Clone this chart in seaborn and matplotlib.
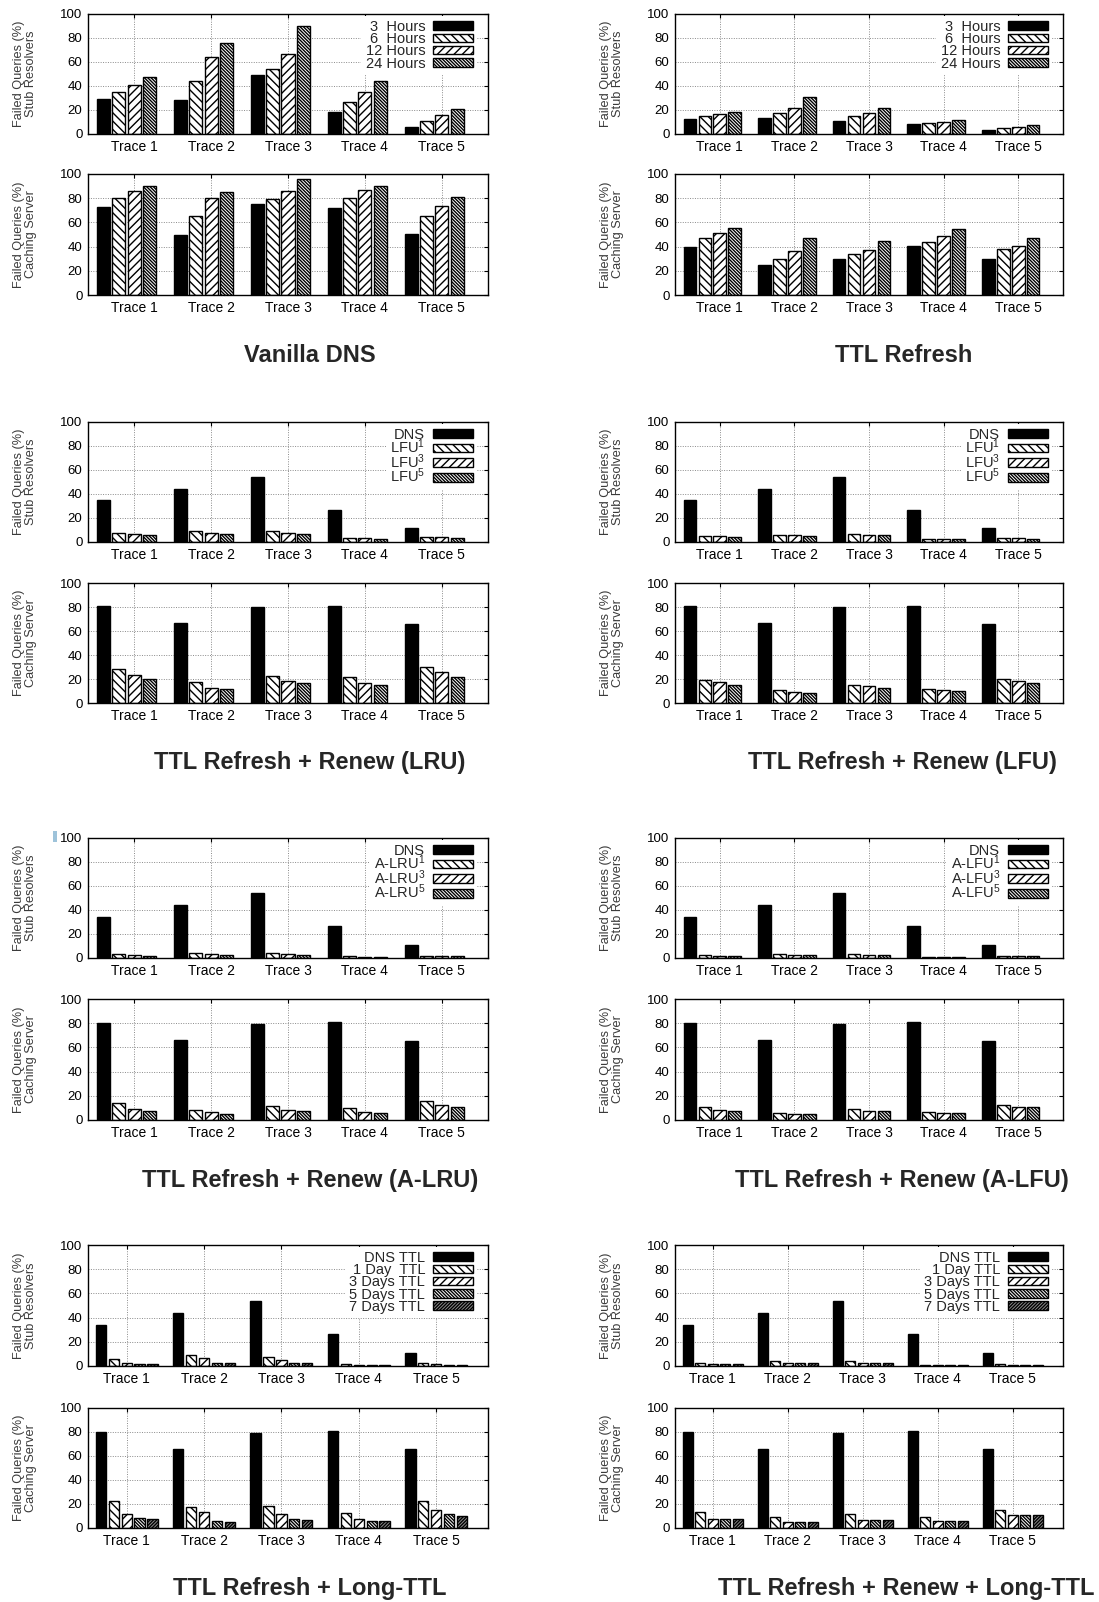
import numpy as np
import pandas as pd
import seaborn as sns
import matplotlib
matplotlib.use("Agg")
import matplotlib.pyplot as plt
from matplotlib.patches import Patch, Rectangle

# ---------------------------------------------------------------- data
traces = ["Trace 1", "Trace 2", "Trace 3", "Trace 4", "Trace 5"]

hours_labels = ["3  Hours", "6  Hours", "12 Hours", "24 Hours"]
lfu_labels = ["DNS", "LFU$^1$", "LFU$^3$", "LFU$^5$"]
alru_labels = ["DNS", "A-LRU$^1$", "A-LRU$^3$", "A-LRU$^5$"]
alfu_labels = ["DNS", "A-LFU$^1$", "A-LFU$^3$", "A-LFU$^5$"]
ttl_labels_a = ["DNS TTL", "1 Day  TTL", "3 Days TTL", "5 Days TTL", "7 Days TTL"]
ttl_labels_b = ["DNS TTL", "1 Day TTL", "3 Days TTL", "5 Days TTL", "7 Days TTL"]

# Vanilla DNS
vanilla_stub_3h = [28.9, 28.3, 49.0, 18.6, 5.8]
vanilla_stub_6h = [35.0, 43.9, 54.0, 27.0, 11.0]
vanilla_stub_12h = [40.8, 64.4, 67.0, 35.0, 15.5]
vanilla_stub_24h = [47.8, 75.5, 90.0, 44.0, 20.5]
vanilla_cache_3h = [72.5, 50.0, 75.5, 71.6, 50.4]
vanilla_cache_6h = [80.0, 65.6, 79.3, 80.4, 65.0]
vanilla_cache_12h = [86.0, 80.0, 86.0, 87.0, 73.3]
vanilla_cache_24h = [90.0, 85.0, 96.0, 90.4, 81.0]

# TTL Refresh
refresh_stub_3h = [12.2, 13.0, 10.8, 8.6, 3.6]
refresh_stub_6h = [15.0, 17.2, 15.3, 9.4, 5.3]
refresh_stub_12h = [16.4, 21.4, 17.5, 9.7, 5.8]
refresh_stub_24h = [18.6, 31.0, 21.4, 12.0, 7.5]
refresh_cache_3h = [39.4, 24.8, 30.0, 40.2, 30.0]
refresh_cache_6h = [47.0, 30.0, 33.9, 44.0, 38.3]
refresh_cache_12h = [51.2, 36.6, 37.5, 49.0, 40.2]
refresh_cache_24h = [55.0, 47.0, 44.6, 54.3, 47.0]

# TTL Refresh + Renew (LRU)
dns_stub = [34.6, 43.9, 54.2, 27.0, 11.5]
dns_cache = [80.7, 66.3, 79.6, 81.2, 65.7]
lru_stub_1 = [7.8, 9.5, 9.5, 3.6, 4.2]
lru_stub_3 = [6.7, 7.3, 7.8, 3.4, 3.9]
lru_stub_5 = [5.6, 6.7, 6.7, 2.8, 3.1]
lru_cache_1 = [28.2, 17.1, 22.4, 21.3, 30.4]
lru_cache_3 = [23.2, 12.7, 18.5, 16.3, 26.2]
lru_cache_5 = [20.2, 11.6, 16.3, 14.6, 21.5]

# TTL Refresh + Renew (LFU)
lfu_stub_1 = [5.0, 6.1, 6.7, 2.8, 3.1]
lfu_stub_3 = [4.7, 5.6, 5.9, 2.5, 3.1]
lfu_stub_5 = [4.5, 5.0, 5.6, 2.2, 2.8]
lfu_cache_1 = [19.0, 10.5, 15.2, 11.9, 20.2]
lfu_cache_3 = [17.4, 9.4, 14.1, 11.0, 18.0]
lfu_cache_5 = [15.2, 8.3, 12.2, 9.9, 16.3]

# TTL Refresh + Renew (A-LRU / A-LFU)
dns_stub_a = [34.4, 43.9, 53.9, 27.0, 10.6]
dns_cache_a = [80.1, 66.0, 79.3, 80.9, 65.5]
alru_stub_1 = [3.3, 4.4, 4.4, 1.7, 1.9]
alru_stub_3 = [2.5, 3.3, 3.3, 1.1, 1.7]
alru_stub_5 = [1.9, 2.5, 2.5, 1.1, 1.7]
alru_cache_1 = [13.8, 8.3, 11.6, 9.7, 15.7]
alru_cache_3 = [9.1, 6.4, 8.3, 6.4, 12.2]
alru_cache_5 = [7.7, 5.2, 7.2, 6.1, 11.0]
alfu_stub_1 = [2.5, 3.3, 3.3, 1.1, 1.4]
alfu_stub_3 = [1.9, 2.5, 2.8, 0.8, 1.4]
alfu_stub_5 = [1.7, 2.5, 2.5, 0.8, 1.4]
alfu_cache_1 = [11.0, 6.1, 9.1, 6.9, 12.4]
alfu_cache_3 = [8.3, 5.0, 7.5, 6.1, 11.0]
alfu_cache_5 = [7.5, 4.7, 7.2, 6.1, 11.0]

# TTL Refresh + Long-TTL
dns_stub_t = [34.0, 43.5, 53.7, 26.3, 10.5]
dns_cache_t = [80.3, 65.8, 79.4, 81.1, 65.6]
lttl_stub_1 = [5.5, 9.4, 7.8, 1.7, 2.8]
lttl_stub_3 = [2.8, 6.6, 4.7, 1.1, 1.7]
lttl_stub_5 = [1.7, 2.8, 2.8, 0.8, 1.1]
lttl_stub_7 = [1.7, 2.8, 2.8, 0.8, 1.1]
lttl_cache_1 = [22.2, 17.2, 18.3, 12.5, 22.2]
lttl_cache_3 = [11.4, 13.1, 11.4, 7.5, 14.7]
lttl_cache_5 = [8.6, 5.6, 7.5, 5.8, 11.4]
lttl_cache_7 = [7.5, 4.7, 6.7, 5.8, 10.3]

# TTL Refresh + Renew + Long-TTL
rttl_stub_1 = [2.8, 4.4, 4.4, 1.1, 1.7]
rttl_stub_3 = [1.7, 2.8, 2.8, 0.8, 1.1]
rttl_stub_5 = [1.4, 2.8, 2.8, 0.8, 1.1]
rttl_stub_7 = [1.4, 2.8, 2.8, 0.8, 1.1]
rttl_cache_1 = [13.0, 8.9, 11.4, 8.9, 15.3]
rttl_cache_3 = [7.2, 5.0, 6.7, 5.6, 10.6]
rttl_cache_5 = [7.2, 4.7, 6.7, 5.6, 10.6]
rttl_cache_7 = [7.2, 4.7, 6.7, 5.6, 10.6]

# ---------------------------------------------------------------- style
sns.set_style("white")
plt.rcParams["font.family"] = ["Liberation Sans", "DejaVu Sans"]
plt.rcParams["mathtext.fontset"] = "custom"
plt.rcParams["mathtext.rm"] = "Liberation Sans"
plt.rcParams["mathtext.it"] = "Liberation Sans"
plt.rcParams["mathtext.bf"] = "Liberation Sans:bold"
plt.rcParams["mathtext.default"] = "regular"
plt.rcParams["hatch.linewidth"] = 1.0
plt.rcParams["hatch.color"] = "black"

BS = "\\"
# fill / hatch for each series slot
styles4 = [("black", ""), ("white", BS * 4), ("white", "////"), ("white", BS * 10)]
styles5 = [("black", ""), ("white", BS * 4), ("white", "////"),
           ("white", BS * 10), ("#8c8c8c", "/" * 10)]

FIG_W, FIG_H = 1099, 1602
fig = plt.figure(figsize=(FIG_W / 100, FIG_H / 100), dpi=100)


def make_axes(x0, x1, y0, y1):
    return fig.add_axes([x0 / FIG_W, 1 - y1 / FIG_H, (x1 - x0) / FIG_W, (y1 - y0) / FIG_H])


def draw(ax, labels, series, styles, ylabel, legend):
    n = len(labels)
    df = pd.DataFrame({
        "trace": np.tile(traces, n),
        "series": np.repeat(labels, len(traces)),
        "value": np.concatenate([np.asarray(s, float) for s in series]),
    })
    palette = {lab: st[0] for lab, st in zip(labels, styles)}
    width = n / (n + 1)
    sns.barplot(data=df, x="trace", y="value", hue="series", order=traces,
                hue_order=labels, palette=palette, saturation=1, width=width,
                gap=0.15 if n == 4 else 0.2, edgecolor="black", linewidth=1.0,
                errorbar=None, legend=False, ax=ax)
    for cont, (fc, hatch) in zip(ax.containers, styles):
        for p in cont.patches:
            p.set_facecolor(fc)
            p.set_hatch(hatch)
            p.set_edgecolor("black")
    pitch = 1.0 / (n + 1)
    shift = pitch / 2 if n % 2 == 0 else 0.0
    ticks = np.arange(len(traces)) + shift
    ax.set_xticks(ticks, traces)
    if n == 4:
        ax.set_xlim(-0.5, 4.7)
    else:
        ax.set_xlim(-0.5, 4.67)
    ax.set_ylim(0, 100)
    ax.set_yticks(np.arange(0, 101, 20))
    ax.set_xlabel("")
    axw = ax.get_position().width * FIG_W
    axh = ax.get_position().height * FIG_H
    ax.set_ylabel(ylabel, fontsize=9.2, color="#3a3a3a", linespacing=1.05)
    ax.yaxis.set_label_coords(-51 / axw, 0.5)
    ax.grid(True, linestyle=(0, (1, 1.5)), color="#8a8a8a", linewidth=0.7)
    ax.set_axisbelow(True)
    ax.tick_params(direction="in", top=True, right=True, length=3, width=0.8,
                   colors="black")
    ax.tick_params(axis="y", labelsize=9.5, pad=4)
    ax.tick_params(axis="x", labelsize=10, pad=4)
    for sp in ax.spines.values():
        sp.set_visible(True)
        sp.set_color("black")
        sp.set_linewidth(1.0)
    if legend:
        handles = [Patch(facecolor=fc, edgecolor="black", hatch=h, linewidth=1.0)
                   for fc, h in styles]
        has_sup = any("$" in lab for lab in labels)
        leg = ax.legend(handles, labels, loc="upper right",
                        bbox_to_anchor=(1 - 11 / axw, 1 - 1.5 / axh),
                        borderaxespad=0, borderpad=0.3, markerfirst=False,
                        frameon=True, facecolor="white", edgecolor="none",
                        framealpha=1, fancybox=False, fontsize=10.5,
                        handlelength=2.7, handleheight=0.52, handletextpad=0.55,
                        labelspacing=-0.28 if has_sup else -0.12)
        leg.set_zorder(5)


panels = [
    # (x0, x1, y rows, title, labels, stub series, cache series, styles)
    (88, 488, (14, 134, 174, 295), "Vanilla DNS", hours_labels,
     [vanilla_stub_3h, vanilla_stub_6h, vanilla_stub_12h, vanilla_stub_24h],
     [vanilla_cache_3h, vanilla_cache_6h, vanilla_cache_12h, vanilla_cache_24h], styles4),
    (675, 1063, (14, 134, 174, 295), "TTL Refresh", hours_labels,
     [refresh_stub_3h, refresh_stub_6h, refresh_stub_12h, refresh_stub_24h],
     [refresh_cache_3h, refresh_cache_6h, refresh_cache_12h, refresh_cache_24h], styles4),
    (88, 488, (422, 542, 583, 703), "TTL Refresh + Renew (LRU)", lfu_labels,
     [dns_stub, lru_stub_1, lru_stub_3, lru_stub_5],
     [dns_cache, lru_cache_1, lru_cache_3, lru_cache_5], styles4),
    (675, 1063, (422, 542, 583, 703), "TTL Refresh + Renew (LFU)", lfu_labels,
     [dns_stub, lfu_stub_1, lfu_stub_3, lfu_stub_5],
     [dns_cache, lfu_cache_1, lfu_cache_3, lfu_cache_5], styles4),
    (88, 488, (838, 958, 999, 1120), "TTL Refresh + Renew (A-LRU)", alru_labels,
     [dns_stub_a, alru_stub_1, alru_stub_3, alru_stub_5],
     [dns_cache_a, alru_cache_1, alru_cache_3, alru_cache_5], styles4),
    (675, 1063, (838, 958, 999, 1120), "TTL Refresh + Renew (A-LFU)", alfu_labels,
     [dns_stub_a, alfu_stub_1, alfu_stub_3, alfu_stub_5],
     [dns_cache_a, alfu_cache_1, alfu_cache_3, alfu_cache_5], styles4),
    (88, 488, (1245, 1366, 1408, 1528), "TTL Refresh + Long-TTL", ttl_labels_a,
     [dns_stub_t, lttl_stub_1, lttl_stub_3, lttl_stub_5, lttl_stub_7],
     [dns_cache_t, lttl_cache_1, lttl_cache_3, lttl_cache_5, lttl_cache_7], styles5),
    (675, 1063, (1245, 1366, 1408, 1528), "TTL Refresh + Renew + Long-TTL", ttl_labels_b,
     [dns_stub_t, rttl_stub_1, rttl_stub_3, rttl_stub_5, rttl_stub_7],
     [dns_cache_t, rttl_cache_1, rttl_cache_3, rttl_cache_5, rttl_cache_7], styles5),
]

title_y = [355, 355, 763, 763, 1180, 1180, 1588, 1588]
title_x = [310, 904, 310, 902, 310, 902, 310, 906]

for (x0, x1, ys, title, labels, stub, cache, styles), tx, ty in zip(panels, title_x, title_y):
    ax_s = make_axes(x0, x1, ys[0], ys[1])
    ax_c = make_axes(x0, x1, ys[2], ys[3])
    draw(ax_s, labels, stub, styles, "Failed Queries (%)\nStub Resolvers", True)
    draw(ax_c, labels, cache, styles, "Failed Queries (%)\nCaching Server", False)
    fig.text(tx / FIG_W, 1 - ty / FIG_H, title, ha="center", va="center",
             fontsize=17, fontweight="bold")

# small selection marker beside the third row
fig.patches.append(Rectangle((53 / FIG_W, 1 - 842 / FIG_H), 4 / FIG_W, 11 / FIG_H,
                             transform=fig.transFigure, facecolor="#9ec3da",
                             edgecolor="none"))

fig.savefig("out.png", dpi=100, facecolor="white")
